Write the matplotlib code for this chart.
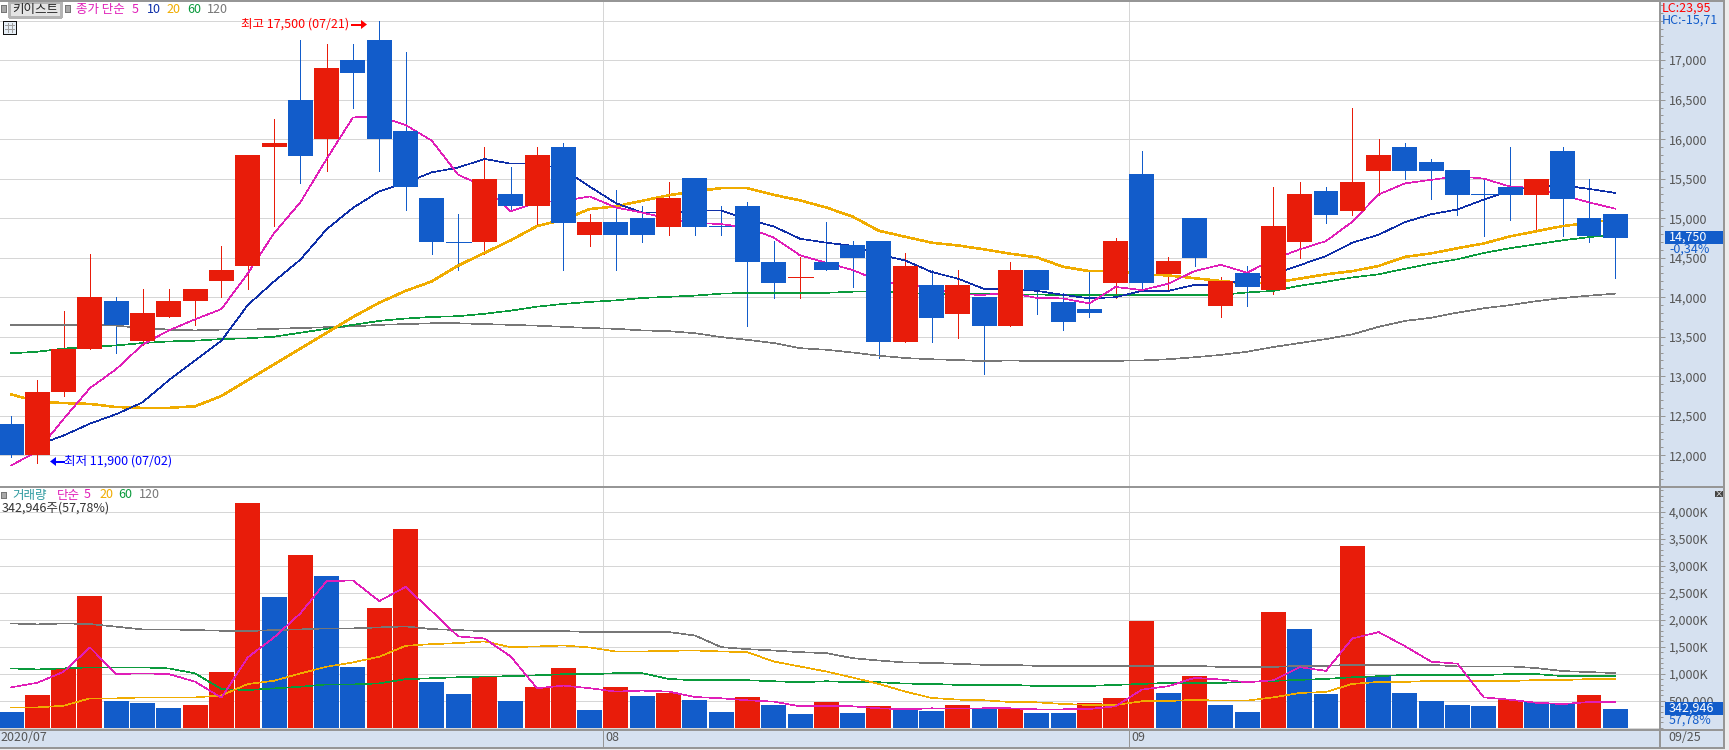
import matplotlib
matplotlib.use('Agg')
import matplotlib.pyplot as plt
from matplotlib.patches import Rectangle
from matplotlib.ticker import MultipleLocator

plt.rcParams['font.family'] = ['Noto Sans CJK KR', 'DejaVu Sans']

# candles, one entry per trading day
opens = [12400, 12000, 12800, 13350, 13950, 13450, 13750, 13950, 14200, 14400, 15900, 16500, 16000, 17000, 17250, 16100,
         15250, 14700, 14700, 15300, 15150, 15900, 14790, 14950, 15000, 14885, 15510, 14900, 15150, 14450, 14245, 14450,
         14655, 14710, 13435, 14150, 13790, 14000, 13640, 14350, 13945, 13845, 14185, 15555, 14290, 15000, 13885, 14300,
         14090, 14695, 15350, 15085, 15595, 15895, 15705, 15605, 15300, 15400, 15290, 15850, 15000, 15050]
closes = [12000, 12800, 13350, 14000, 13650, 13800, 13950, 14100, 14350, 15800, 15950, 15790, 16900, 16840, 16000, 15400,
          14700, 14700, 15500, 15150, 15800, 14935, 14950, 14785, 14785, 15255, 14885, 14900, 14440, 14185, 14250, 14340,
          14490, 13435, 14400, 13740, 14150, 13640, 14350, 14085, 13690, 13795, 14705, 14185, 14455, 14490, 14200, 14135,
          14900, 15300, 15035, 15455, 15795, 15595, 15595, 15290, 15300, 15290, 15500, 15240, 14780, 14750]
highs = [12500, 12950, 13830, 14550, 14000, 14100, 14100, 14100, 14650, 15800, 16250, 17250, 17200, 17200, 17500, 17100,
         15250, 15050, 15900, 15650, 15900, 15950, 15050, 15355, 15150, 15460, 15510, 15150, 15200, 14710, 14505, 14950,
         14710, 14710, 14555, 14350, 14350, 14000, 14450, 14350, 14050, 14350, 14755, 15845, 14505, 15000, 14250, 14400,
         15400, 15455, 15400, 16400, 16000, 15945, 15745, 15605, 15510, 15900, 15500, 15900, 15500, 15050]
lows = [11980, 11900, 12750, 13350, 13300, 13400, 13750, 13650, 14000, 14100, 14900, 15450, 15600, 16400, 15600, 15100,
        14550, 14350, 14550, 15100, 14930, 14340, 14645, 14340, 14695, 14785, 14785, 14785, 13640, 13985, 13985, 14340,
        14135, 13230, 13435, 13435, 13490, 13030, 13640, 13790, 13590, 13745, 13985, 14085, 14080, 14390, 13745, 13885,
        14035, 14490, 14935, 15035, 15290, 15490, 15240, 15035, 14780, 14980, 14830, 14780, 14700, 14240]

# price moving averages
ma5 = [11870, 12050, 12460, 12850, 13090, 13400, 13580, 13720, 13850, 14300, 14810, 15200, 15750, 16275, 16290, 16180,
       15980, 15550, 15400, 15085, 15200, 15220, 15275, 15135, 15070, 14995, 14940, 14925, 14880, 14755, 14530, 14435,
       14345, 14205, 14160, 14120, 14035, 14030, 14055, 13990, 13985, 13920, 14130, 14090, 14170, 14330, 14410, 14310,
       14480, 14605, 14710, 14955, 15300, 15440, 15485, 15530, 15500, 15400, 15380, 15290, 15200, 15120]
ma10 = [None, 12130, 12250, 12400, 12520, 12670, 12950, 13200, 13450, 13900, 14200, 14475, 14860, 15130, 15340, 15450,
        15580, 15640, 15750, 15690, 15690, 15620, 15400, 15190, 15070, 15070, 15095, 15095, 14985, 14895, 14740, 14690,
        14650, 14540, 14465, 14320, 14235, 14105, 14105, 14080, 14030, 13985, 14000, 14080, 14080, 14155, 14155, 14225,
        14290, 14405, 14520, 14690, 14790, 14950, 15050, 15110, 15235, 15345, 15405, 15415, 15370, 15320]
ma20 = [12770, 12680, 12660, 12650, 12610, 12600, 12600, 12620, 12750, 12950, 13150, 13350, 13550, 13750, 13930, 14080,
        14200, 14400, 14560, 14720, 14900, 14980, 15115, 15150, 15220, 15290, 15340, 15380, 15380, 15295, 15225, 15135,
        15020, 14840, 14765, 14690, 14655, 14605, 14550, 14505, 14385, 14330, 14330, 14290, 14275, 14240, 14205, 14175,
        14185, 14235, 14290, 14330, 14395, 14510, 14555, 14620, 14680, 14770, 14835, 14900, 14940, 14990]
ma60 = [13290, 13310, 13350, 13370, 13390, 13420, 13440, 13450, 13470, 13480, 13500, 13550, 13600, 13650, 13700, 13730,
        13750, 13760, 13790, 13830, 13880, 13915, 13940, 13960, 13990, 14005, 14020, 14045, 14055, 14055, 14055, 14055,
        14070, 14070, 14055, 14040, 14040, 14040, 14035, 14035, 14025, 14025, 14030, 14030, 14030, 14030, 14030, 14060,
        14080, 14145, 14195, 14250, 14290, 14360, 14425, 14480, 14560, 14620, 14670, 14720, 14760, 14790]
ma120 = [13650, 13650, 13650, 13650, 13640, 13610, 13590, 13580, 13590, 13590, 13600, 13610, 13620, 13630, 13650, 13660,
         13670, 13670, 13660, 13650, 13640, 13625, 13610, 13600, 13580, 13570, 13545, 13495, 13460, 13420, 13355, 13335,
         13300, 13260, 13230, 13215, 13205, 13190, 13200, 13190, 13190, 13190, 13195, 13200, 13215, 13240, 13270, 13310,
         13370, 13420, 13470, 13530, 13625, 13700, 13740, 13805, 13860, 13900, 13950, 13990, 14020, 14045]

# volume in thousands, and whether the day's volume rose
volume = [290, 606, 1094, 2441, 494, 457, 365, 420, 1032, 4165, 2423, 3201, 2812, 1125, 2219, 3683,
          850, 626, 961, 496, 756, 1110, 329, 756, 589, 645, 515, 291, 570, 422, 254, 477,
          273, 403, 335, 316, 428, 372, 372, 279, 279, 465, 558, 1972, 651, 967, 428, 298,
          2139, 1823, 632, 3367, 955, 651, 502, 426, 408, 507, 482, 463, 612, 343]
vol_up = [0, 1, 1, 1, 0, 0, 0, 1, 1, 1, 0, 1, 0, 0, 1, 1,
          0, 0, 1, 0, 1, 1, 0, 1, 0, 1, 0, 0, 1, 0, 0, 1,
          0, 1, 0, 0, 1, 0, 1, 0, 0, 1, 1, 1, 0, 1, 0, 0,
          1, 0, 0, 1, 0, 0, 0, 0, 0, 1, 0, 0, 1, 0]
vma5 = [748, 834, 1038, 1489, 995, 1007, 995, 853, 556, 1304, 1675, 2120, 2719, 2730, 2348, 2610,
        2158, 1693, 1655, 1320, 732, 781, 732, 670, 688, 670, 570, 546, 508, 484, 397, 397,
        397, 360, 341, 360, 353, 360, 360, 341, 341, 347, 397, 707, 769, 924, 893, 843,
        880, 1122, 1054, 1655, 1773, 1513, 1225, 1187, 562, 519, 463, 439, 476, 476]
vma20 = [377, 377, 408, 544, 544, 562, 562, 562, 600, 810, 871, 1007, 1131, 1211, 1316, 1519,
         1550, 1569, 1600, 1494, 1507, 1525, 1488, 1414, 1414, 1426, 1432, 1414, 1401, 1228, 1135, 1042,
         930, 812, 670, 552, 521, 508, 477, 471, 440, 422, 422, 490, 496, 515, 502, 502,
         564, 645, 663, 812, 849, 849, 868, 865, 865, 865, 884, 884, 902, 902]
vma60 = [1100, 1081, 1100, 1119, 1119, 1119, 1100, 1007, 717, 698, 729, 760, 803, 803, 822, 899,
         918, 936, 949, 955, 973, 992, 992, 1011, 1011, 905, 880, 880, 880, 862, 843, 862,
         843, 843, 818, 812, 794, 794, 794, 775, 775, 775, 794, 812, 831, 831, 831, 849,
         868, 887, 905, 936, 955, 980, 980, 976, 976, 995, 995, 958, 958, 958]
vma120 = [1934, 1916, 1934, 1922, 1873, 1823, 1823, 1811, 1798, 1792, 1811, 1823, 1842, 1842, 1860, 1879,
          1829, 1810, 1792, 1792, 1792, 1792, 1773, 1773, 1773, 1773, 1711, 1494, 1457, 1432, 1401, 1383,
          1290, 1246, 1209, 1203, 1184, 1166, 1166, 1147, 1147, 1147, 1147, 1147, 1147, 1147, 1128, 1128,
          1128, 1147, 1147, 1166, 1166, 1166, 1166, 1137, 1137, 1137, 1106, 1051, 1032, 1013]

price_ticks = [17000, 16500, 16000, 15500, 15000, 14500, 14000, 13500, 13000, 12500, 12000]
price_grid_extra = [17500]
volume_ticks = [500, 1000, 1500, 2000, 2500, 3000, 3500, 4000]
volume_labels = ['500,000', '1,000K', '1,500K', '2,000K', '2,500K', '3,000K', '3,500K', '4,000K']
month_breaks = [22.52, 42.5]

RED = '#E81C0A'
BLUE = '#125CCA'
PINK = '#E01EB8'
NAVY = '#0F2FA8'
ORANGE = '#F0AC00'
GREEN = '#0A9A3C'
GRAY = '#777777'
PANEL = '#D6E1F0'
GRID = '#D6D6D6'
BORDER = '#969696'
TICKTEXT = '#555555'
PX = 0.72
THIN = 0.45
XLIM = (-0.42, 62.70)


def px_axes(fig, x0, y0, x1, y1):
    # axes placed by pixel box, y counted from the top
    return fig.add_axes([x0 / 1729, 1 - y1 / 750, (x1 - x0) / 1729, (y1 - y0) / 750])


def style_axis(ax):
    for side in ['top', 'left', 'bottom']:
        ax.spines[side].set_visible(False)
    ax.spines['right'].set_color(BORDER)
    ax.spines['right'].set_linewidth(1.4)
    ax.set_xticks([])
    ax.yaxis.tick_right()
    ax.tick_params(axis='y', which='major', length=3.6, width=PX, color=BORDER, labelcolor=TICKTEXT,
                   labelsize=9, pad=2.5)
    ax.tick_params(axis='y', which='minor', length=1.8, width=PX, color=BORDER)
    ax.set_axisbelow(True)


def hgrid(ax, values):
    for v in values:
        ax.axhline(v, color=GRID, lw=PX, zorder=0, antialiased=False)
    for v in month_breaks:
        ax.axvline(v, color=GRID, lw=PX, zorder=0, antialiased=False)


fig = plt.figure(figsize=(17.29, 7.5), dpi=100, facecolor=PANEL)

# price panel
ax = px_axes(fig, 0, 1, 1660, 486)
ax.set_xlim(*XLIM)
ax.set_ylim(11611, 17748)
style_axis(ax)
hgrid(ax, price_ticks + price_grid_extra)
ax.set_yticks(price_ticks)
ax.set_yticklabels([f'{v:,}' for v in price_ticks])
ax.yaxis.set_minor_locator(MultipleLocator(100))

days = list(range(len(opens)))
for i in days:
    col = RED if closes[i] > opens[i] else BLUE
    ax.vlines(i, lows[i], highs[i], color=col, lw=PX, zorder=2, antialiased=False)
    if abs(closes[i] - opens[i]) < 20:
        ax.hlines(closes[i], i - 0.475, i + 0.475, color=col, lw=PX, zorder=2, antialiased=False)
    else:
        ax.bar(i, abs(closes[i] - opens[i]), bottom=min(opens[i], closes[i]), width=0.95,
               color=col, zorder=4, antialiased=False)

ax.plot(days, ma120, color=GRAY, lw=THIN, zorder=3, antialiased=False)
ax.plot(days, ma60, color=GREEN, lw=THIN, zorder=3, antialiased=False)
ax.plot(days, ma20, color=ORANGE, lw=1.1, zorder=3, antialiased=False)
ax.plot(days, ma10, color=NAVY, lw=THIN, zorder=3, antialiased=False)
ax.plot(days, ma5, color=PINK, lw=THIN, zorder=3, antialiased=False)

# volume panel
vax = px_axes(fig, 0, 487, 1660, 729)
vax.set_xlim(*XLIM)
vax.set_ylim(-24, 4464)
style_axis(vax)
hgrid(vax, [0] + volume_ticks)
vax.set_yticks(volume_ticks)
vax.set_yticklabels(volume_labels)
vax.yaxis.set_minor_locator(MultipleLocator(100))
vax.bar(days, volume, width=0.95, color=[RED if u else BLUE for u in vol_up], zorder=2, antialiased=False)
vax.plot(days, vma120, color=GRAY, lw=THIN, zorder=3, antialiased=False)
vax.plot(days, vma60, color=GREEN, lw=THIN, zorder=3, antialiased=False)
vax.plot(days, vma20, color=ORANGE, lw=THIN, zorder=3, antialiased=False)
vax.plot(days, vma5, color=PINK, lw=THIN, zorder=3, antialiased=False)

# overlay in pixel coordinates for header labels, boxes and frame
top = fig.add_axes([0, 0, 1, 1], zorder=10, facecolor='none')
top.set_xlim(0, 1729)
top.set_ylim(750, 0)
top.axis('off')


def label(x, y, s, color, size=9, ha='left', **kw):
    top.text(x, y, s, color=color, fontsize=size, ha=ha, va='center', **kw)


def box(x0, y0, x1, y1, face, edge='none', lw=0):
    top.add_patch(Rectangle((x0, y0), x1 - x0, y1 - y0, facecolor=face, edgecolor=edge, linewidth=lw, antialiased=False))


def seg(x0, y0, x1, y1, color=BORDER, lw=1.4):
    top.plot([x0, x1], [y0, y1], color=color, lw=lw, antialiased=False, solid_capstyle='butt')


# frame
box(1725, 0, 1729, 750, '#EDEDED')
box(0, 748, 1729, 750, '#EDEDED')
seg(0, 0.5, 1725, 0.5)
seg(0, 486.5, 1725, 486.5)
seg(0, 729.5, 1725, 729.5)
seg(0, 747.5, 1725, 747.5)
seg(1724.5, 0, 1724.5, 748)
seg(1660, 729, 1660, 748)
seg(603.5, 729, 603.5, 748, lw=PX)
seg(1129.5, 729, 1129.5, 748, lw=PX)

# price header
box(1, 5, 6, 12, '#A8A8A8', '#777777', 0.6)
box(9, 2, 61, 17, '#E4E4E4', '#B4B4B4', 0.8)
label(35, 9.5, '키이스트', '#222222', ha='center')
box(65, 5, 70, 12, '#A8A8A8', '#777777', 0.6)
label(76, 9.5, '종가 단순', PINK)
label(132, 9.5, '5', PINK)
label(147, 9.5, '10', NAVY)
label(166, 9.5, '20', ORANGE)
label(187, 9.5, '60', GREEN)
label(207, 9.5, '120', GRAY)
box(3, 21, 16, 34, '#E6EEF6', '#111111', PX)
for yy in [25, 29]:
    seg(5, yy, 14, yy, '#A0A0A0', PX)
for xx in [8, 12]:
    seg(xx, 23, xx, 32, '#A0A0A0', PX)

label(241, 24.5, '최고 17,500 (07/21)', '#FF0000')
seg(351, 24.5, 362, 24.5, '#FF0000', 1.1)
top.fill([361, 367, 361], [20, 24.5, 29], color='#FF0000', lw=0)
label(64, 461.5, '최저 11,900 (07/02)', '#0000FF')
seg(54, 461.5, 65, 461.5, '#0000FF', 1.1)
top.fill([56, 50, 56], [457, 461.5, 466], color='#0000FF', lw=0)

# right panel texts
label(1662, 8, 'LC:23,95', '#FF0000')
label(1662, 20, 'HC:-15,71', BLUE)
box(1665, 231, 1723, 244, BLUE)
label(1669, 237.5, '14,750', 'white')
label(1669, 249.5, '-0,34%', BLUE)

# volume header
box(1, 492, 6, 498, '#A8A8A8', '#777777', 0.6)
label(12, 495, '거래량', '#2E9AA0')
label(57, 495, '단순', PINK)
label(84, 495, '5', PINK)
label(99, 495, '20', ORANGE)
label(118, 495, '60', GREEN)
label(139, 495, '120', GRAY)
label(2, 508, '342,946주(57,78%)', '#333333')
box(1715, 491, 1723, 497, '#444444')
label(1719, 493.5, '×', 'white', size=6, ha='center')
box(1665, 702, 1723, 715, BLUE)
label(1669, 708.5, '342,946', 'white')
label(1669, 720.5, '57,78%', BLUE)

# date bar
label(0, 737.5, '2020/07', TICKTEXT)
label(605, 737.5, '08', TICKTEXT)
label(1131, 737.5, '09', TICKTEXT)
label(1668, 737.5, '09/25', TICKTEXT)

fig.savefig('out.png', dpi=100, facecolor=fig.get_facecolor())
